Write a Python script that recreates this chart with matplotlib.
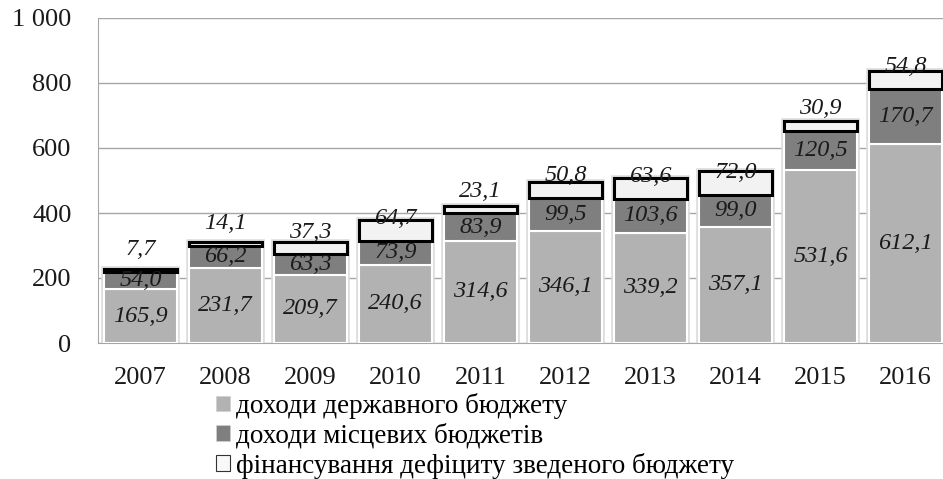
import matplotlib
matplotlib.use('Agg')
import matplotlib.pyplot as plt
from matplotlib.patches import Patch
from matplotlib.ticker import FuncFormatter
import numpy as np

years = ['2007', '2008', '2009', '2010', '2011', '2012', '2013', '2014', '2015', '2016']
state_rev = [165.9, 231.7, 209.7, 240.6, 314.6, 346.1, 339.2, 357.1, 531.6, 612.1]
local_rev = [54.0, 66.2, 63.3, 73.9, 83.9, 99.5, 103.6, 99.0, 120.5, 170.7]
deficit_fin = [7.7, 14.1, 37.3, 64.7, 23.1, 50.8, 63.6, 72.0, 30.9, 54.8]
series_names = ['доходи державного бюджету',
                'доходи місцевих бюджетів',
                'фінансування дефіциту зведеного бюджету']
y_ticks = [0, 200, 400, 600, 800, 1000]

plt.rcParams['font.family'] = ['Liberation Serif', 'DejaVu Serif']

W, H = 943, 479
fig = plt.figure(figsize=(W / 100, H / 100), dpi=100)
ax = fig.add_axes([98 / W, (H - 343) / H, 850 / W, 325 / H])

x = np.arange(len(years))
w = 0.85
s = np.array(state_rev)
l = np.array(local_rev)
d = np.array(deficit_fin)

c_state, c_local, c_def = '#b2b2b2', '#7f7f7f', '#f2f2f2'

# soft shadow
ax.bar(x, s + l + d, w, color='none', edgecolor='#dcdcdc', linewidth=4, zorder=2)
ax.bar(x, s, w, color=c_state, edgecolor='white', linewidth=1.5, zorder=3)
ax.bar(x, l, w, bottom=s, color=c_local, edgecolor='white', linewidth=1.5, zorder=3)
ax.bar(x, d, w, bottom=s + l, color=c_def, edgecolor='black', linewidth=2.2, zorder=4)

fmt = lambda v: f'{v:.1f}'.replace('.', ',')
lab_kw = dict(fontsize=17.5, style='italic', color='#1a1a1a', ha='center', va='center', zorder=6)
for i in range(len(years)):
    ax.text(x[i], s[i] / 2, fmt(s[i]), **lab_kw)
    ax.text(x[i], s[i] + l[i] / 2, fmt(l[i]), **lab_kw)
    ax.annotate(fmt(d[i]), (x[i], s[i] + l[i]), xytext=(0, 16), textcoords='offset points', **lab_kw)

ax.set_xlim(-0.5, len(years) - 0.5)
ax.set_ylim(0, 1000)
ax.set_yticks(y_ticks)
ax.yaxis.set_major_formatter(FuncFormatter(lambda v, p: f'{int(v):,}'.replace(',', ' ')))
ax.set_xticks(x)
ax.set_xticklabels(years)
ax.tick_params(axis='both', length=0, labelsize=19, colors='#1a1a1a')
ax.tick_params(axis='y', pad=19)
ax.tick_params(axis='x', pad=17)
ax.grid(axis='y', color='#a6a6a6', linewidth=1, zorder=0)
ax.set_axisbelow(True)
for sp in ['top', 'right']:
    ax.spines[sp].set_visible(False)
ax.spines['left'].set_color('#a6a6a6')
ax.spines['bottom'].set_color('#a6a6a6')

handles = [Patch(facecolor=c_state, edgecolor='#d0d0d0', linewidth=0.5),
           Patch(facecolor=c_local, edgecolor='#d0d0d0', linewidth=0.5),
           Patch(facecolor='#f8f8f8', edgecolor='#333333', linewidth=0.8)]
fig.legend(handles, series_names, loc='upper left', bbox_to_anchor=(216 / W, 1 - 393 / H),
           frameon=False, fontsize=19.5, handlelength=0.5, handleheight=0.5,
           handletextpad=0.22, labelspacing=0.15, borderpad=0, borderaxespad=0)

fig.savefig('out.png', dpi=100)
